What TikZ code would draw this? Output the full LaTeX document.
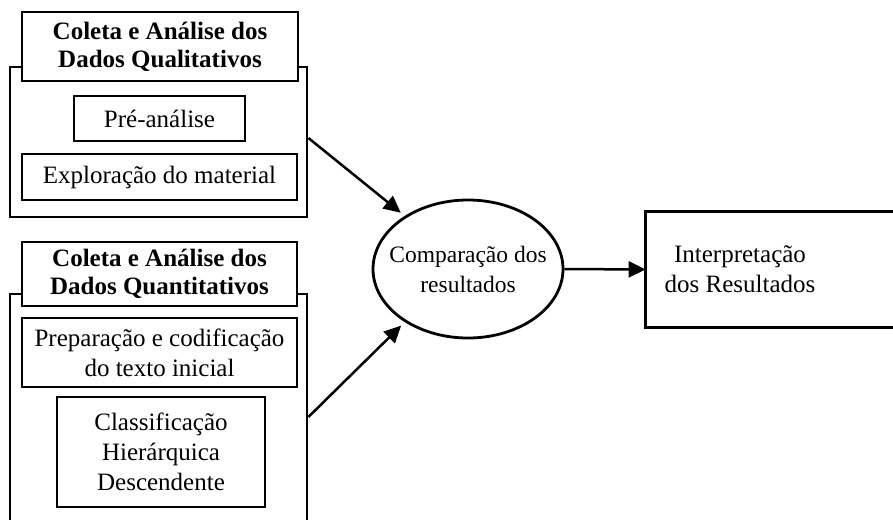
\documentclass[tikz,border=0pt]{standalone}
\usepackage{fontspec}
\setmainfont{Liberation Serif}
\usetikzlibrary{arrows.meta,shapes.geometric}

\begin{document}
\begin{tikzpicture}
	[x=1pt, y=-1pt, line width=2.8pt, inner sep=0pt,
	font=\fontsize{25}{30}\selectfont,
	group/.style	= {rectangle,draw,minimum width=297pt},
	title/.style	= {rectangle,draw,fill=white,align=center,minimum width=275pt,font=\bfseries\fontsize{25}{28}\selectfont},
	stage/.style	= {rectangle,draw,fill=white,align=center,minimum height=46pt},
	compare/.style	= {ellipse,draw,align=center,inner xsep=-20pt,minimum width=190pt,minimum height=138pt,font=\fontsize{23.5}{30}\selectfont},
	paths/.style	= {line width=2.5pt, -{Triangle[length=17pt,width=16pt]}},
	into/.style	= {shorten >= 5pt}]

	\clip (0,0) rectangle (893,519);

	\node at (158.5,142)	[group, minimum height=150pt]	(qualiBox)	{};
	\node at (160,46.5)		[title, minimum width=276pt, minimum height=69pt]	(qualiTitle)	{Coleta e Análise dos\\Dados Qualitativos};
	\node at (159.5,118.5)	[stage, minimum width=171pt, minimum height=45pt]	(preAnalise)	{Pré-análise};
	\node at (159.5,177)	[stage, minimum width=275pt]	(exploracao)	{Exploração do material};

	\node at (158.5,417)	[group, minimum height=246pt]	(quantiBox)	{};
	\node at (159.5,274)	[title, minimum height=64pt]	(quantiTitle)	{Coleta e Análise dos\\Dados Quantitativos};
	\node at (159.5,352.5)	[stage, minimum width=275pt, minimum height=69pt]	(preparacao)	{Preparação e codificação\\do texto inicial};
	\node at (161,452)		[stage, minimum width=208pt, minimum height=110pt]	(classificacao)	{Classificação\\Hierárquica\\Descendente};

	\node at (468,269)		[compare]	(comparacao)	{Comparação dos\\resultados};
	\node at (740,269.5)	[align=center, minimum width=186pt, minimum height=113pt]	(interpretacao)	{Interpretação\\dos Resultados};
	\draw (interpretacao.north west) rectangle ([xshift=100pt]interpretacao.south east);

	\draw [paths, into] ([yshift=4pt]qualiBox.east) -- (comparacao.140);
	\draw [paths, into] (quantiBox.east) -- (comparacao.220);
	\draw [paths] (comparacao.east) -- (interpretacao.west);

\end{tikzpicture}
\end{document}
